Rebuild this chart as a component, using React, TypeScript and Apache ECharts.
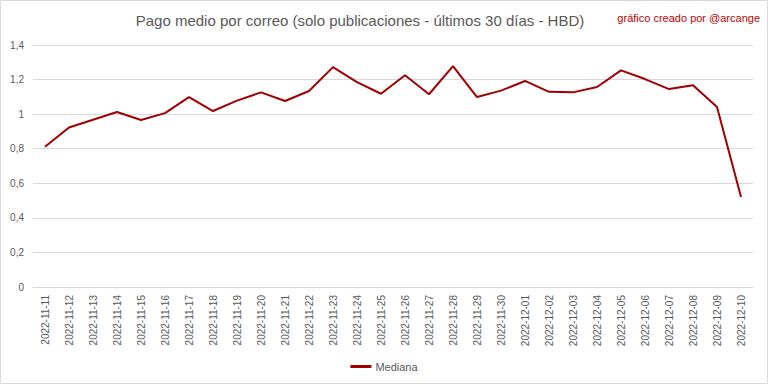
import React, { useEffect, useRef } from "react";
import * as echarts from "echarts";

const categories = [
  "2022-11-11", "2022-11-12", "2022-11-13", "2022-11-14", "2022-11-15",
  "2022-11-16", "2022-11-17", "2022-11-18", "2022-11-19", "2022-11-20",
  "2022-11-21", "2022-11-22", "2022-11-23", "2022-11-24", "2022-11-25",
  "2022-11-26", "2022-11-27", "2022-11-28", "2022-11-29", "2022-11-30",
  "2022-12-01", "2022-12-02", "2022-12-03", "2022-12-04", "2022-12-05",
  "2022-12-06", "2022-12-07", "2022-12-08", "2022-12-09", "2022-12-10",
];

const mediana = [
  0.811, 0.923, 0.968, 1.012, 0.966,
  1.006, 1.098, 1.018, 1.078, 1.126,
  1.076, 1.134, 1.272, 1.185, 1.118,
  1.225, 1.115, 1.278, 1.099, 1.136,
  1.192, 1.129, 1.126, 1.157, 1.253,
  1.203, 1.145, 1.167, 1.041, 0.52,
];

const titleText = "Pago medio por correo (solo publicaciones - últimos 30 días - HBD)";
const creditText = "gráfico creado por @arcange";
const seriesName = "Mediana";

export default function App() {
  const ref = useRef<HTMLDivElement>(null);
  useEffect(() => {
    if (!ref.current) return;
    const chart = echarts.init(ref.current, null, { renderer: "svg" });
    const font = "'Liberation Sans', Arial, sans-serif";
    chart.setOption({
      animation: false,
      backgroundColor: "#ffffff",
      textStyle: { fontFamily: font },
      title: {
        text: titleText,
        left: 355,
        textAlign: "center",
        top: 8,
        textStyle: { fontFamily: font, fontSize: 15, fontWeight: "normal", color: "#595959" },
      },
      graphic: [
        {
          type: "text",
          right: 8,
          top: 12,
          style: { text: creditText, fill: "#c00000", font: "11px " + font },
        },
        {
          type: "rect",
          shape: { x: 0.5, y: 0.5, width: 767, height: 383 },
          style: { fill: "none", stroke: "#d9d9d9", lineWidth: 1 },
          silent: true,
        },
      ],
      legend: {
        data: [seriesName],
        left: "center",
        top: 356,
        itemWidth: 21,
        itemHeight: 3,
        itemGap: 4,
        icon: "rect",
        textStyle: { fontFamily: font, fontSize: 11, color: "#595959", padding: [0, 0, 0, -1] },
      },
      grid: { left: 33, right: 15, top: 45, bottom: 97, containLabel: false },
      xAxis: {
        type: "category",
        data: categories,
        boundaryGap: true,
        axisLine: { show: true, lineStyle: { color: "#d9d9d9" } },
        axisTick: { show: false },
        axisLabel: {
          rotate: 90,
          interval: 0,
          margin: 8,
          fontSize: 10,
          color: "#595959",
          fontFamily: font,
        },
      },
      yAxis: {
        type: "value",
        min: 0,
        max: 1.4,
        interval: 0.2,
        axisLine: { show: false },
        axisTick: { show: false },
        splitLine: { lineStyle: { color: "#d9d9d9", width: 1 } },
        axisLabel: {
          fontSize: 10,
          color: "#595959",
          fontFamily: font,
          margin: 9,
          formatter: (v: number) => String(Math.round(v * 10) / 10).replace(".", ","),
        },
      },
      series: [
        {
          name: seriesName,
          type: "line",
          data: mediana,
          showSymbol: false,
          symbol: "none",
          lineStyle: { color: "#a00000", width: 2 },
          itemStyle: { color: "#a00000" },
        },
      ],
    });
    return () => chart.dispose();
  }, []);
  return (
    <div
      ref={ref}
      style={{ position: "fixed", left: 0, top: 0, width: 768, height: 384 }}
    />
  );
}
